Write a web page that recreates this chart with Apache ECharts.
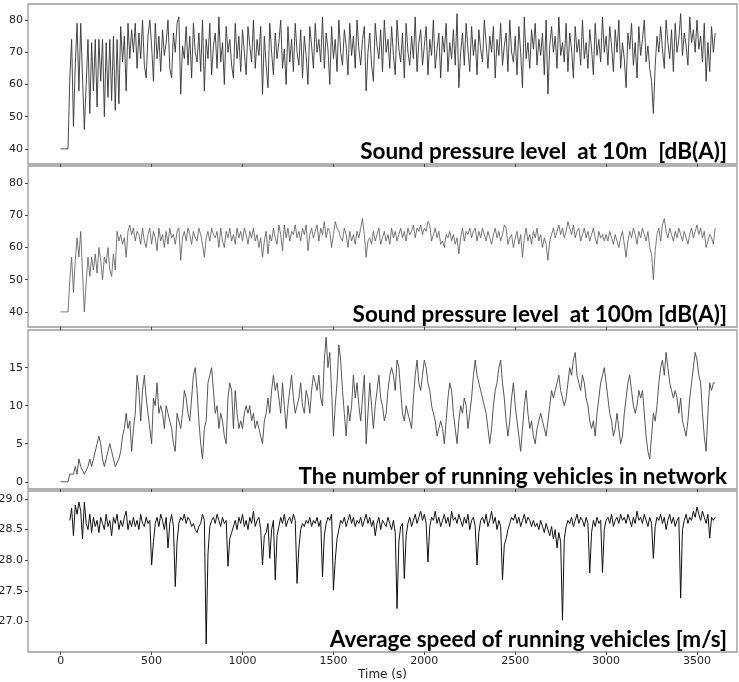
<!DOCTYPE html>
<html>
<head>
<meta charset="utf-8">
<script src="https://cdn.jsdelivr.net/npm/echarts@6/dist/echarts.min.js"></script>
<style>
  html, body { margin: 0; padding: 0; background: #fff; }
  #main { width: 739px; height: 682px; }
</style>
</head>
<body>
<div id="main"></div>
<script>
// sampling step of the series (s)
const timeStep = 10

// Sound pressure level at 10m [dB(A)], t = 0..3600
const spl10 = [
  40,40,40,40,40,62,74,47,66,79,
  58,79,62,46,60,74,51,73,58,74,
  53,74,61,74,50,73,56,74,55,75,
  52,74,54,78,67,75,58,79,68,77,
  70,79,65,76,68,80,66,62,75,80,
  72,61,79,68,75,64,77,69,73,80,
  65,62,76,70,79,81,57,72,68,78,
  66,75,62,79,70,67,76,64,80,58,
  74,68,79,63,72,76,65,81,67,73,
  60,78,70,74,66,62,79,68,75,64,
  77,70,63,78,72,67,80,65,74,69,
  78,57,75,66,59,79,70,63,76,68,
  73,80,65,71,60,78,67,74,64,79,
  70,66,77,62,75,69,60,78,72,65,
  79,70,74,67,81,65,76,71,60,78,
  68,74,64,80,70,66,77,72,63,79,
  69,75,65,80,71,66,74,78,58,70,
  76,66,61,79,72,68,77,64,80,70,
  74,65,78,69,63,80,71,67,76,62,
  79,70,66,75,68,81,64,73,77,66,
  72,78,63,74,69,80,65,71,76,62,
  75,70,79,64,73,68,77,66,82,59,
  70,76,66,79,71,64,78,69,74,63,
  77,71,67,80,73,65,75,70,78,62,
  74,69,79,66,72,76,64,80,70,67,
  75,63,78,70,59,81,68,73,65,77,
  71,79,66,74,69,76,63,80,57,72,
  78,70,75,65,81,69,73,67,79,64,
  76,71,62,78,70,74,66,80,68,73,
  65,77,71,63,79,69,74,67,81,70,
  75,66,78,72,64,77,70,80,65,73,
  68,59,76,71,79,66,73,62,78,69,
  74,80,67,72,65,61,51,66,75,70,
  78,71,65,80,73,68,77,64,79,70,
  74,82,69,76,72,66,81,73,77,70,
  80,71,75,67,79,61,73,64,78,70,
  76
]

// Sound pressure level at 100m [dB(A)]
const spl100 = [
  40,40,40,40,40,50,57,46,56,63,
  57,65,52,40,49,57,51,57,53,58,
  52,60,56,50,57,55,60,53,51,58,
  53,65,62,64,61,63,57,65,67,64,
  66,62,65,64,61,66,62,60,64,66,
  61,65,63,59,66,62,64,60,65,61,
  66,63,64,61,65,66,56,63,65,62,
  66,64,61,65,63,62,66,64,61,57,
  63,65,62,66,64,63,65,60,66,62,
  60,65,63,66,62,64,61,66,63,65,
  62,66,64,61,65,63,66,62,64,60,
  63,57,62,65,58,64,62,66,63,61,
  67,64,59,67,63,66,62,65,64,67,
  63,65,62,66,64,67,59,64,66,63,
  65,67,62,66,64,68,63,66,65,60,
  64,68,66,65,63,62,66,64,60,65,
  62,64,61,65,63,66,69,64,57,62,
  63,61,65,62,64,66,61,63,65,62,
  64,61,66,63,65,62,64,66,63,65,
  62,66,64,65,67,63,66,65,67,64,
  66,65,68,67,62,64,66,63,65,61,
  62,60,64,63,65,62,64,61,63,58,
  63,66,62,65,64,66,63,65,66,62,
  65,63,66,64,62,65,63,61,64,66,
  63,65,62,64,67,66,61,63,64,60,
  63,65,61,64,57,63,66,62,64,61,
  65,63,66,62,64,60,63,61,56,62,
  64,66,63,65,67,64,66,63,65,68,
  66,64,67,63,65,66,62,64,66,63,
  65,62,64,66,63,61,65,63,64,62,
  64,62,65,63,61,64,62,60,63,65,
  61,57,62,65,63,66,64,61,65,63,
  66,64,62,65,60,58,50,59,64,66,
  62,67,69,65,63,66,64,62,65,63,
  66,64,62,65,63,61,64,66,63,65,
  67,64,66,63,65,60,62,64,63,61,
  66
]

// The number of running vehicles in network
const vehicles = [
  0,0,0,0,0,1,1,1,2,1,
  3,2,2,1,1,2,3,2,3,4,
  5,6,5,3,2,3,4,5,4,4,
  2,2,3,4,6,7,9,7,8,4,
  7,9,14,12,8,12,14,11,9,7,
  5,11,10,13,9,10,9,7,10,9,
  8,7,5,4,9,8,7,9,12,11,
  9,8,11,14,15,12,8,5,3,7,
  8,13,14,15,12,9,10,7,9,8,
  6,5,11,13,12,7,12,9,7,8,
  7,9,10,9,10,8,9,7,8,7,
  6,5,8,9,11,9,12,14,12,13,
  11,9,13,10,7,10,12,14,11,9,
  10,11,13,10,9,12,11,9,12,14,
  13,12,14,11,10,16,19,15,17,12,
  6,10,13,18,16,12,9,6,10,8,
  10,14,11,13,10,8,11,14,5,9,
  13,10,7,10,12,14,11,10,8,9,
  12,14,15,14,12,16,15,12,9,8,
  10,9,8,7,11,14,16,13,12,14,
  16,15,13,12,10,9,8,6,7,8,
  7,5,8,11,13,12,9,7,5,8,
  10,9,11,10,7,9,11,14,16,14,
  13,12,12,10,9,7,5,7,10,12,
  13,15,16,13,11,8,6,8,11,13,
  10,8,6,4,7,10,12,9,7,8,
  6,5,7,8,9,8,7,6,8,10,
  12,11,12,13,14,12,11,10,11,13,
  15,14,16,17,14,13,12,14,13,11,
  10,8,7,8,6,9,11,13,14,15,
  13,11,9,8,6,7,9,7,5,6,
  9,11,13,14,12,10,9,10,12,11,
  12,9,6,4,3,6,9,8,10,13,
  15,16,14,17,15,13,12,11,12,11,
  9,11,8,7,6,8,11,13,15,17,
  16,14,13,9,6,4,9,13,12,13,
  13
]

// Average speed of running vehicles [m/s]
const speed = [
  null,null,null,null,null,28.65,28.85,28.40,28.90,28.75,
  28.95,28.80,28.35,28.95,28.60,28.50,28.75,28.45,28.70,28.55,
  28.65,28.45,28.70,28.60,28.50,28.75,28.55,28.65,28.40,28.70,
  28.60,28.75,28.50,28.65,28.55,28.70,28.80,28.50,28.65,28.55,
  28.70,28.55,28.65,28.50,28.75,28.60,28.55,28.70,28.60,28.65,
  27.92,28.30,28.60,28.70,28.55,28.75,28.65,28.50,28.70,28.20,
  28.60,28.75,28.55,27.57,28.30,28.60,28.70,28.65,28.75,28.60,
  28.70,28.65,28.55,28.60,28.50,28.45,28.55,28.60,28.75,28.65,
  26.63,28.10,28.55,28.65,28.70,28.60,28.75,28.65,28.55,28.70,
  28.60,28.65,27.90,28.35,28.45,28.55,28.65,28.50,28.70,28.60,
  28.75,28.55,28.65,28.50,28.70,28.60,28.80,28.55,28.65,28.70,
  28.50,27.92,28.40,28.45,28.60,28.03,28.50,28.65,27.68,28.40,
  28.55,28.70,28.60,28.75,28.55,28.65,28.70,28.60,28.75,28.65,
  27.62,28.20,28.50,28.60,28.55,28.65,28.60,28.70,28.55,28.65,
  28.60,28.70,28.55,28.65,27.73,28.40,28.60,28.70,28.65,28.75,
  27.51,28.00,28.35,28.50,28.65,28.60,28.70,28.55,28.65,28.75,
  28.60,28.70,28.55,28.65,28.60,28.70,28.55,28.65,28.75,28.60,
  28.70,28.55,28.65,28.40,28.60,28.70,28.50,28.65,28.60,28.55,
  28.70,28.60,28.50,28.65,28.45,27.21,28.30,28.55,28.60,27.70,
  28.40,28.60,28.70,28.55,28.65,28.75,28.60,28.70,28.80,28.65,
  28.75,28.60,27.97,28.55,28.70,28.65,28.80,28.60,28.70,28.55,
  28.65,28.75,28.60,28.70,28.55,28.80,28.65,28.70,28.60,28.75,
  28.65,28.55,28.70,28.60,28.75,28.50,28.65,28.70,28.55,27.92,
  28.45,28.65,28.70,28.60,28.75,28.55,28.65,28.80,28.60,28.70,
  28.50,28.65,28.55,27.68,28.25,28.35,28.50,28.60,28.70,28.65,
  28.75,28.60,28.70,28.55,28.65,28.75,28.60,28.70,28.65,28.55,
  28.65,28.55,28.60,28.50,28.65,28.55,28.45,28.60,28.50,28.40,
  28.55,28.35,28.50,28.20,28.45,28.30,27.02,28.35,28.55,28.65,
  28.60,28.70,28.55,28.65,28.75,28.60,28.70,28.65,28.55,28.70,
  28.60,27.79,28.45,28.65,28.55,28.70,28.60,28.65,27.80,28.50,
  28.65,28.70,28.60,28.75,28.55,28.65,28.70,28.60,28.75,28.65,
  28.70,28.60,28.75,28.65,28.55,28.70,28.60,28.80,28.65,28.70,
  28.60,28.75,28.65,28.55,28.70,28.60,28.03,28.55,28.70,28.65,
  28.75,28.60,28.70,28.50,28.65,28.75,28.60,28.70,28.55,28.65,
  28.70,27.38,28.50,28.65,28.75,28.60,28.70,28.65,28.80,28.70,
  28.87,28.75,28.65,28.80,28.70,28.60,28.75,28.36,28.70,28.65,
  28.70
]

const xTicks = [0, 500, 1000, 1500, 2000, 2500, 3000, 3500]
const splTicks = [40, 50, 60, 70, 80]
const vehicleTicks = [0, 5, 10, 15]
const speedTicks = [27.0, 27.5, 28.0, 28.5, 29.0]

const titles = [
  'Sound pressure level  at 10m  [dB(A)]',
  'Sound pressure level  at 100m [dB(A)]',
  'The number of running vehicles in network',
  'Average speed of running vehicles [m/s]',
]

const toPairs = (values) => values.map((v, i) => [i * timeStep, v])

const panels = [
  { top: 4, height: 160, min: 35.3, max: 85, ticks: splTicks, data: spl10, color: '#333', width: 0.9 },
  { top: 166, height: 161, min: 35.3, max: 85.3, ticks: splTicks, data: spl100, color: '#555', width: 0.8 },
  { top: 330, height: 159, min: -0.95, max: 19.95, ticks: vehicleTicks, data: vehicles, color: '#444', width: 0.9 },
  { top: 491, height: 161, min: 26.5, max: 29.13, ticks: speedTicks, data: speed, color: '#111', width: 1 },
]

const labelFont = { color: '#222', fontSize: 11, fontFamily: 'DejaVu Sans' }

const myChart = echarts.init(document.getElementById('main'), null, { renderer: 'canvas' })

myChart.setOption({
  animation: false,
  grid: panels.map((p) => ({
    left: 28, right: 2, top: p.top, height: p.height,
    outerBoundsMode: 'none', containLabel: false,
    show: true, borderColor: '#999', borderWidth: 1.3, backgroundColor: '#fff',
  })),
  xAxis: panels.map((p, i) => ({
    type: 'value', gridIndex: i, min: -180, max: 3720,
    splitLine: { show: false },
    axisLine: { show: false, onZero: false },
    axisTick: { show: true, length: 3, customValues: xTicks, lineStyle: { color: '#444' } },
    axisLabel: i === 3
      ? { ...labelFont, margin: 4, customValues: xTicks, formatter: (v) => String(v) }
      : { show: false },
    name: i === 3 ? 'Time (s)' : '',
    nameLocation: 'middle',
    nameGap: 17,
    nameTextStyle: { color: '#222', fontSize: 12, fontFamily: 'DejaVu Sans' },
  })),
  yAxis: panels.map((p, i) => ({
    type: 'value', gridIndex: i, min: p.min, max: p.max,
    splitLine: { show: false },
    axisLine: { show: false, onZero: false },
    axisTick: { show: true, length: 3, customValues: p.ticks, lineStyle: { color: '#444' } },
    axisLabel: {
      ...labelFont, margin: 5, customValues: p.ticks,
      formatter: i === 3 ? (v) => v.toFixed(1) : (v) => String(v),
    },
  })),
  series: panels.map((p, i) => ({
    type: 'line', xAxisIndex: i, yAxisIndex: i,
    data: toPairs(p.data),
    showSymbol: false, connectNulls: false,
    lineStyle: { color: p.color, width: p.width },
  })),
  graphic: panels.map((p, i) => ({
    type: 'text', z: 10,
    style: {
      x: 727, y: p.top + p.height - 1,
      text: titles[i],
      textAlign: 'right', textVerticalAlign: 'bottom',
      font: 'bold 22.5px Lato', fill: '#000',
    },
  })),
})
</script>
</body>
</html>
